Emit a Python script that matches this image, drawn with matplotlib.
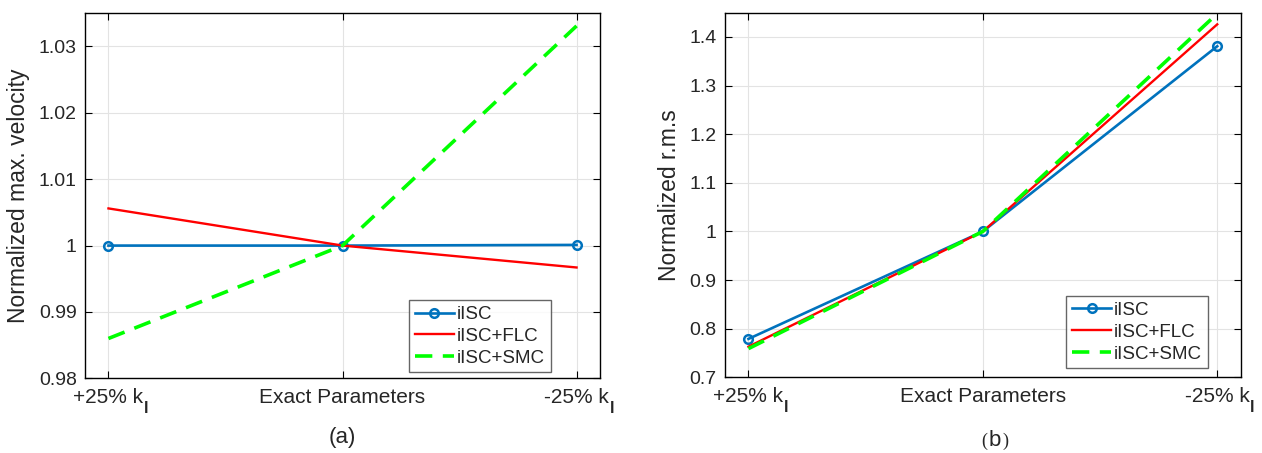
import matplotlib
matplotlib.use("Agg")
import matplotlib.pyplot as plt

plt.rcParams['font.family'] = ['Liberation Sans', 'DejaVu Sans']

# ---- data ----
x_labels = ['+25% k', 'Exact Parameters', '-25% k']
x_subscripts = ['l', '', 'l']
x_pos = [1, 2, 3]

# (a) normalized max. velocity
vel_ilsc = [1.0000, 1.0000, 1.0001]
vel_flc = [1.0056, 1.0000, 0.9967]
vel_smc = [0.9860, 1.0000, 1.0331]
vel_yticks = [0.98, 0.99, 1.00, 1.01, 1.02, 1.03]
vel_yticklabels = ['0.98', '0.99', '1', '1.01', '1.02', '1.03']

# (b) normalized r.m.s
rms_ilsc = [0.779, 1.000, 1.381]
rms_flc = [0.763, 1.000, 1.426]
rms_smc = [0.759, 1.000, 1.448]
rms_yticks = [0.7, 0.8, 0.9, 1.0, 1.1, 1.2, 1.3, 1.4]
rms_yticklabels = ['0.7', '0.8', '0.9', '1', '1.1', '1.2', '1.3', '1.4']

series_names = ['iISC', 'iISC+FLC', 'iISC+SMC']

BLUE = '#0072BD'
RED = '#FF0000'
GREEN = '#00FF00'
TXT = '#262626'

fig = plt.figure(figsize=(12.62, 4.53), dpi=100)
ax1 = fig.add_axes([0.0674, 0.1649, 0.4080, 0.8057])
ax2 = fig.add_axes([0.5745, 0.1671, 0.4086, 0.8049])


def draw(ax, y1, y2, y3, ylim, yt, ytl, ylabel, leg_anchor):
    ax.plot(x_pos, y1, color=BLUE, lw=1.9, marker='o', ms=6.2,
            mfc='none', mew=1.8, label=series_names[0], zorder=3)
    ax.plot(x_pos, y2, color=RED, lw=1.7, label=series_names[1], zorder=4)
    ax.plot(x_pos, y3, color=GREEN, lw=2.6, dashes=(4.8, 2.9),
            label=series_names[2], zorder=5)
    ax.set_xlim(0.9, 3.1)
    ax.set_ylim(*ylim)
    ax.set_xticks(x_pos)
    ax.set_xticklabels(x_labels)
    ax.set_yticks(yt)
    ax.set_yticklabels(ytl)
    ax.grid(True, color='#e3e3e3', lw=0.8)
    ax.set_axisbelow(True)
    ax.tick_params(direction='in', length=5, width=0.8, top=True, right=True,
                   colors='black', labelcolor=TXT)
    ax.tick_params(axis='y', pad=6, labelsize=14)
    ax.tick_params(axis='x', pad=7, labelsize=15)
    for s in ax.spines.values():
        s.set_linewidth(1.0)
        s.set_color('black')
    ax.set_ylabel(ylabel, fontsize=16.5, color=TXT, labelpad=6)
    leg = ax.legend(loc='lower right', bbox_to_anchor=leg_anchor,
                    fontsize=13.5, frameon=True, fancybox=False,
                    handlelength=2.1, handletextpad=0.15, borderpad=0.3,
                    labelspacing=0.25, borderaxespad=0)
    leg.get_frame().set_edgecolor('#404040')
    leg.get_frame().set_linewidth(1.0)
    for t in leg.get_texts():
        t.set_color(TXT)
    # subscripts attached to the tick labels
    for lab, sub in zip(ax.get_xticklabels(), x_subscripts):
        if sub:
            ax.annotate(sub, xy=(1, 0), xycoords=lab, xytext=(0.4, -4.3),
                        textcoords='offset points', fontsize=12,
                        fontweight='bold', color=TXT, ha='left',
                        va='baseline', annotation_clip=False)


draw(ax1, vel_ilsc, vel_flc, vel_smc, (0.98, 1.035), vel_yticks,
     vel_yticklabels, 'Normalized max. velocity', (0.904, 0.016))
draw(ax2, rms_ilsc, rms_flc, rms_smc, (0.7, 1.45), rms_yticks,
     rms_yticklabels, 'Normalized r.m.s', (0.936, 0.025))

fig.text(342 / 1262, 1 - 437 / 453, '(a)', fontsize=16, ha='center',
         va='center', color=TXT)
# (b): serif parentheses around a sans-serif letter
yb = 1 - 445.5 / 453
fig.text(987 / 1262, yb, '(', fontsize=13, family='Liberation Serif',
         ha='right', va='baseline', color=TXT)
fig.text(994.5 / 1262, yb, 'b', fontsize=16, ha='center', va='baseline',
         color=TXT)
fig.text(1002 / 1262, yb, ')', fontsize=13, family='Liberation Serif',
         ha='left', va='baseline', color=TXT)

fig.savefig('out.png', dpi=100)
